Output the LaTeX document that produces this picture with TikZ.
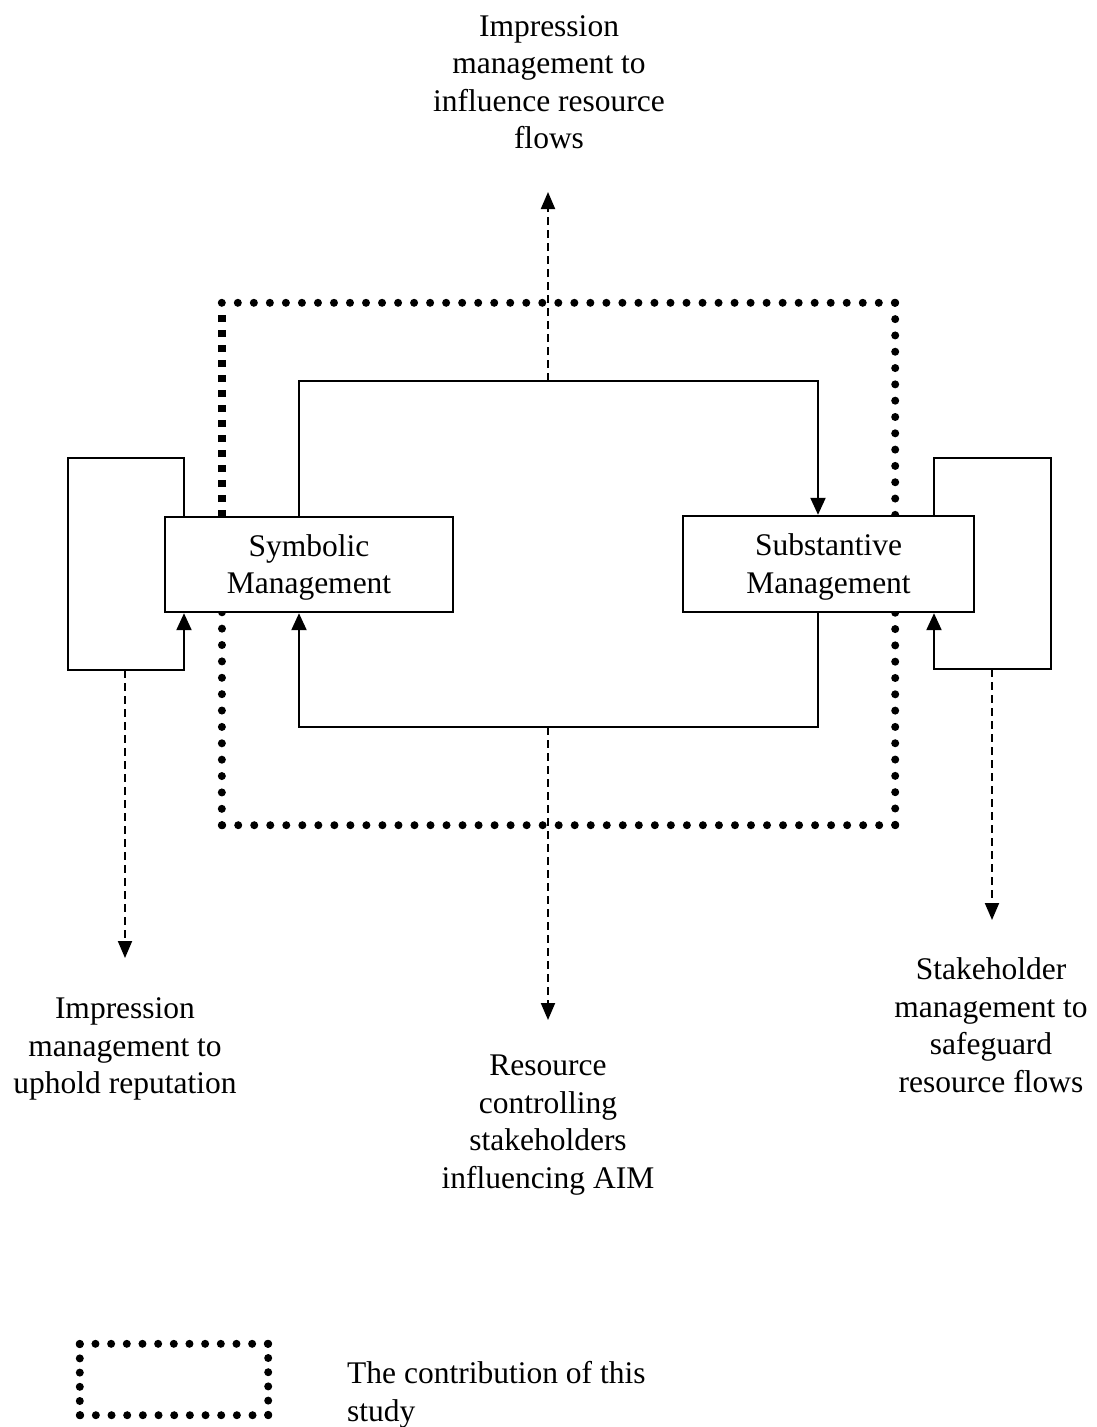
\documentclass[tikz,border=0pt]{standalone}
\usepackage{fontspec}
\setmainfont{Liberation Serif}
\usetikzlibrary{arrows.meta}
\begin{document}
\begin{tikzpicture}[x=1pt,y=-1pt,
  lbl/.style={align=center,inner sep=0pt,font=\fontsize{31.5}{37.5}\selectfont},
  mgmt/.style={draw,line width=2.4pt,fill=white,inner sep=0pt,align=center,font=\fontsize{31.5}{37.5}\selectfont},
  dotline/.style={line width=8pt,line cap=round,dash pattern=on 0pt off #1},
  sqline/.style={line width=8pt,line cap=butt,dash pattern=on 7.5pt off 7.5pt},
  loopline/.style={line width=2.2pt},
  tip/.style={-{Triangle[width=15pt,length=17pt]}},
  dashline/.style={line width=1.9pt,dash pattern=on 8pt off 5pt,-{Triangle[width=14pt,length=17pt]}}
]
\path[use as bounding box] (0,0) rectangle (1096,1427);

% study frame (contribution of this study)
\node[minimum width=673pt,minimum height=522pt,inner sep=0pt] (frame) at (558.5,564) {};
\draw[dotline=16.024pt] (frame.north west) -- (frame.north east);
\draw[dotline=16.3125pt] (frame.north east) -- (frame.south east);
\draw[dotline=16.024pt] (frame.south east) -- (frame.south west);
\draw[dotline=16.38pt] (frame.south west) -- (222,612);
\draw[sqline] (222,517) -- (222,310);

% boxes
\node[mgmt,minimum width=288pt,minimum height=95pt] (sym) at (309,564.5) {\begin{tabular}{@{}c@{}}\rule{0pt}{32.5pt}Symbolic\\Management\end{tabular}};
\node[mgmt,minimum width=291pt,minimum height=96pt] (sub) at (828.5,564) {\begin{tabular}{@{}c@{}}\rule{0pt}{32.5pt}Substantive\\Management\end{tabular}};

% loop coordinates
\coordinate (tl) at (299,381);
\coordinate (tr) at (818,381);
\coordinate (bl) at (299,727);
\coordinate (br) at (818,727);
\coordinate (ltl) at (184,458);
\coordinate (lto) at (68,458);
\coordinate (lbo) at (68,670);
\coordinate (lbl) at (184,670);
\coordinate (rtl) at (934,458);
\coordinate (rto) at (1051,458);
\coordinate (rbo) at (1051,669);
\coordinate (rbl) at (934,669);

% main loops
\draw[loopline,tip] (sym.north -| tl) -- (tl) -- (tr) -- (tr |- sub.north);
\draw[loopline,tip] (sub.south -| br) -- (br) -- (bl) -- (bl |- sym.south);
% self loops
\draw[loopline,tip] (sym.north -| ltl) -- (ltl) -- (lto) -- (lbo) -- (lbl) -- (lbl |- sym.south);
\draw[loopline,tip] (sub.north -| rtl) -- (rtl) -- (rto) -- (rbo) -- (rbl) -- (rbl |- sub.south);

% dashed outcome arrows
\coordinate (ts) at (548,381);
\coordinate (te) at (548,192);
\coordinate (bs) at (548,727);
\coordinate (be) at (548,1020);
\coordinate (ls) at (125,670);
\coordinate (le) at (125,958);
\coordinate (rs) at (992,669);
\coordinate (re) at (992,920);
\draw[dashline] (ts) -- (te);
\draw[dashline] (bs) -- (be);
\draw[dashline] (ls) -- (le);
\draw[dashline] (rs) -- (re);

% labels
\node[lbl] (toplab) at (549,82) {Impression\\management to\\influence resource\\flows};
\node[lbl] (leftlab) at (125,1049) {Impression\\management to\\uphold reputation};
\node[lbl] (botlab) at (548,1125) {Resource\\controlling\\stakeholders\\influencing AIM};
\node[lbl] (rightlab) at (991,1025) {Stakeholder\\management to\\safeguard\\resource flows};

% legend
\node[minimum width=188pt,minimum height=71pt,inner sep=0pt] (legend) at (174,1379.5) {};
\draw[dotline=15.667pt] (legend.north west) -- (legend.north east);
\draw[dotline=14.2pt] (legend.north east) -- (legend.south east);
\draw[dotline=15.667pt] (legend.south east) -- (legend.south west);
\draw[dotline=14.2pt] (legend.south west) -- (legend.north west);
\node[lbl,align=left,anchor=west] (legtext) at (347,1395) {The contribution of this\\study};
\end{tikzpicture}
\end{document}
